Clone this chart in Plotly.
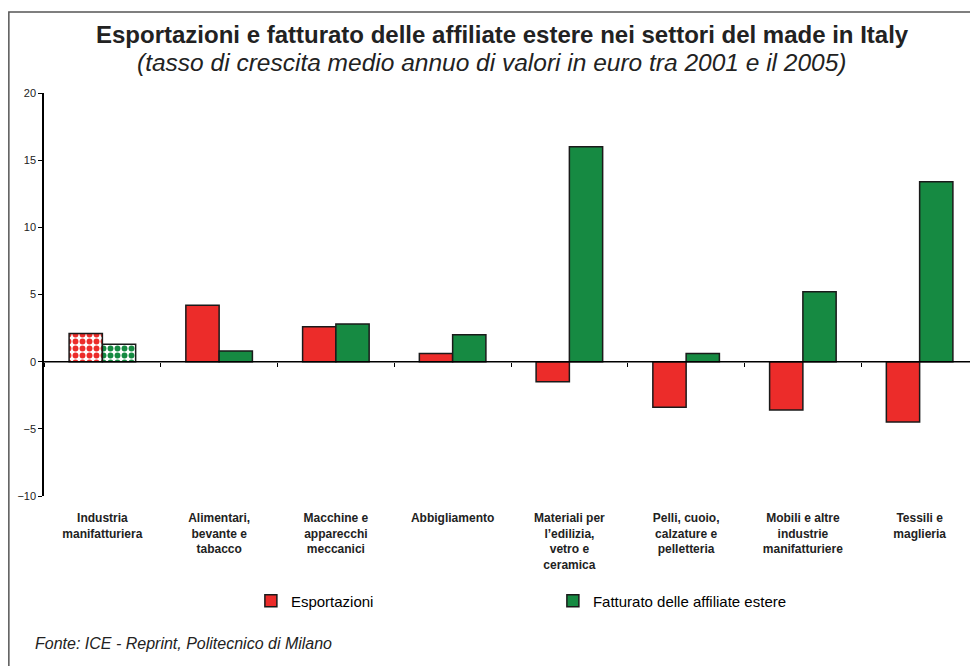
import plotly.graph_objects as go

categories = [
    'Industria<br>manifatturiera',
    'Alimentari,<br>bevante e<br>tabacco',
    'Macchine e<br>apparecchi<br>meccanici',
    'Abbigliamento',
    'Materiali per<br>l\u2019edilizia,<br>vetro e<br>ceramica',
    'Pelli, cuoio,<br>calzature e<br>pelletteria',
    'Mobili e altre<br>industrie<br>manifatturiere',
    'Tessili e<br>maglieria',
]
esportazioni = [2.1, 4.2, 2.6, 0.6, -1.5, -3.4, -3.6, -4.5]
fatturato = [1.3, 0.8, 2.8, 2.0, 16.0, 0.6, 5.2, 13.4]
y_ticks = [-10, -5, 0, 5, 10, 15, 20]

RED = '#ec2c2a'
GREEN = '#168a42'
FONT = 'Liberation Sans, Arial, sans-serif'

# plot area in window pixels (page body has an 8px margin)
PX_L, PX_R, PX_T, PX_B = 44, 974, 93, 496
PW, PH = PX_R - PX_L, PX_B - PX_T


def px_x(x):
    return (x - PX_L) / PW


def px_y(y):
    return (PX_B - y) / PH


# first category (manufacturing total) is drawn with a checker-like pattern
pattern_shapes = ['.'] + [''] * (len(categories) - 1)

fig = go.Figure()

for name, values, color in [('Esportazioni', esportazioni, RED),
                            ('Fatturato delle affiliate estere', fatturato, GREEN)]:
    fig.add_trace(go.Bar(
        x=categories,
        y=values,
        name=name,
        showlegend=False,
        marker=dict(
            color=color,
            line=dict(color='#1a1a1a', width=1.5),
            pattern=dict(shape=pattern_shapes, fgcolor=color, bgcolor='white',
                         size=7, solidity=0.55, fillmode='replace'),
        ),
    ))

# legend entries with solid swatches, kept on the helper axis so they don't shift the groups
for name, color in [('Esportazioni', RED), ('Fatturato delle affiliate estere', GREEN)]:
    fig.add_trace(go.Bar(x=[None], y=[None], name=name, xaxis='x2',
                         marker=dict(color=color, line=dict(color='#1a1a1a', width=1.5))))

# zero line with ticks at category boundaries
fig.add_trace(go.Scatter(x=[0, len(categories)], y=[0, 0], xaxis='x2',
                         mode='lines', line=dict(color='black', width=1.5),
                         showlegend=False, hoverinfo='skip'))

fig.update_layout(
    width=970,
    height=658,
    margin=dict(l=PX_L - 8, r=978 - PX_R - 4, t=PX_T - 8, b=666 - PX_B - 0),
    paper_bgcolor='white',
    plot_bgcolor='white',
    barmode='group',
    bargap=0.43,
    bargroupgap=0,
    font=dict(family=FONT, color='#222222'),
    xaxis=dict(
        showline=False,
        showgrid=False,
        zeroline=False,
        ticks='',
        tickfont=dict(size=12, family=FONT, color='#222222', weight='bold'),
        ticklabelstandoff=13,
    ),
    xaxis2=dict(
        overlaying='x',
        anchor='free',
        position=px_y(362),
        range=[0, len(categories)],
        tickvals=list(range(len(categories) + 1)),
        ticks='outside',
        ticklen=4,
        tickcolor='black',
        showticklabels=False,
        showgrid=False,
        zeroline=False,
        showline=False,
    ),
    yaxis=dict(
        range=[-10, 20],
        tickvals=y_ticks,
        ticks='outside',
        ticklen=4,
        tickcolor='black',
        showline=True,
        linecolor='black',
        linewidth=1.5,
        showgrid=False,
        zeroline=False,
        tickfont=dict(size=11, family=FONT, color='#222222'),
    ),
    legend=dict(
        orientation='h',
        x=px_x(250),
        xanchor='left',
        y=px_y(601),
        yanchor='middle',
        entrywidth=257,
        entrywidthmode='pixels',
        font=dict(size=15, family=FONT, color='black'),
        itemwidth=30,
    ),
    annotations=[
        dict(text='<b>Esportazioni e fatturato delle affiliate estere nei settori del made in Italy</b>',
             xref='paper', yref='paper', x=px_x(501), y=px_y(34),
             xanchor='center', yanchor='middle', showarrow=False,
             font=dict(size=24, family=FONT, color='#222222')),
        dict(text='<i>(tasso di crescita medio annuo di valori in euro tra 2001 e il 2005)</i>',
             xref='paper', yref='paper', x=px_x(490), y=px_y(62),
             xanchor='center', yanchor='middle', showarrow=False,
             font=dict(size=24.5, family=FONT, color='#222222')),
        dict(text='<i>Fonte: ICE - Reprint, Politecnico di Milano</i>',
             xref='paper', yref='paper', x=px_x(33), y=px_y(643),
             xanchor='left', yanchor='middle', showarrow=False,
             font=dict(size=16, family=FONT, color='#222222')),
    ],
    shapes=[
        dict(type='rect', xref='paper', yref='paper',
             x0=px_x(9), x1=px_x(990),
             y0=px_y(690), y1=px_y(12),
             line=dict(color='#555555', width=1.5), layer='below'),
    ],
)

fig.write_html('out.html')
